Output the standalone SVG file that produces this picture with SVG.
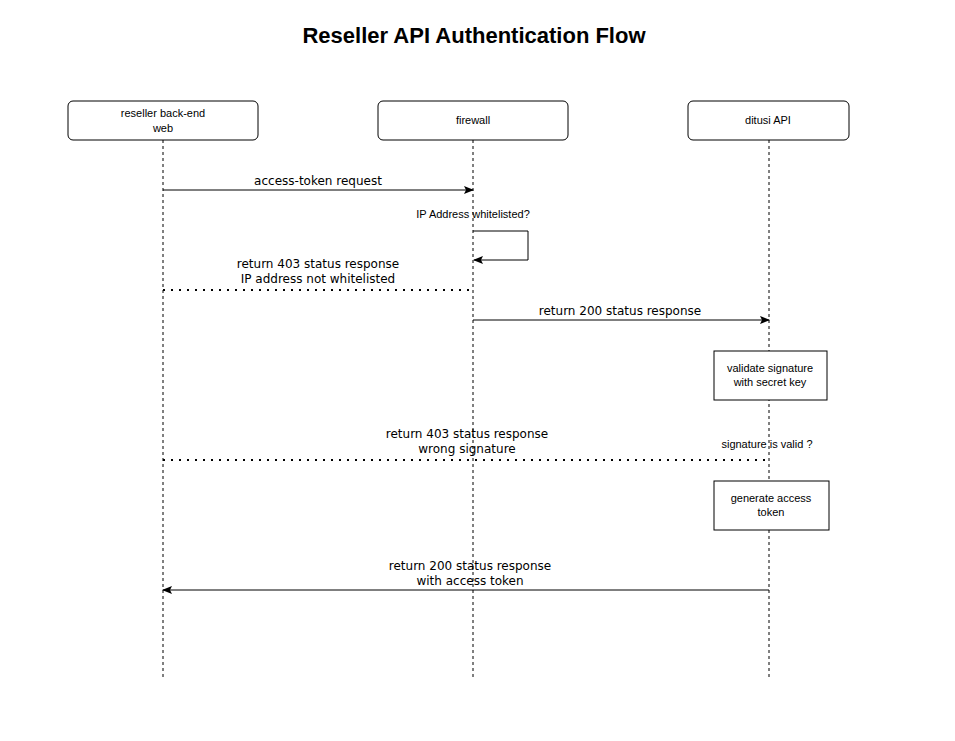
<svg xmlns="http://www.w3.org/2000/svg" width="955" height="741" viewBox="0 0 955 741">
<style>
.hd{fill:#fff;stroke:#000;stroke-width:1}
.ll{stroke:#000;stroke-width:1;stroke-dasharray:3,3;fill:none}
.msg{stroke:#000;stroke-width:1;fill:none}
.dot{stroke:#000;stroke-width:2;stroke-dasharray:2,6;fill:none}
.t{font-family:"DejaVu Sans",sans-serif;font-size:12px;text-anchor:middle}
.s{font-family:"Liberation Sans",Arial,sans-serif;font-size:11px;text-anchor:middle}
.bx{fill:#fff;stroke:#000;stroke-width:1}
</style>
<defs><marker id="a" markerWidth="10" markerHeight="8" refX="9" refY="4" orient="auto" markerUnits="userSpaceOnUse"><path d="M0,0L10,4L0,8L2,4Z" fill="#000"/></marker></defs>
<rect width="955" height="741" fill="#fff"/>
<text x="474" y="43" font-family="Liberation Sans,Arial,sans-serif" font-size="22" font-weight="bold" text-anchor="middle">Reseller API Authentication Flow</text>
<g id="lifelines">
<line class="ll" x1="163" y1="140" x2="163" y2="677"/>
<line class="ll" x1="473" y1="140" x2="473" y2="677"/>
<line class="ll" x1="769" y1="140" x2="769" y2="677"/>
</g>
<g id="reseller"><rect class="hd" x="68" y="101" width="190" height="39" rx="5"/><text class="s" x="163" y="117" font-size="12">reseller back-end</text><text class="s" x="163" y="132" font-size="12">web</text></g>
<g id="firewall"><rect class="hd" x="378" y="101" width="190" height="39" rx="5"/><text class="s" x="473" y="124" font-size="12">firewall</text></g>
<g id="ditusi"><rect class="hd" x="688" y="101" width="161" height="39" rx="5"/><text class="s" x="768" y="124" font-size="12">ditusi API</text></g>
<g id="connectors">
<line class="msg" x1="163" y1="190" x2="473" y2="190" marker-end="url(#a)"/>
<text class="t" x="318" y="185">access-token request</text>
<path class="msg" d="M473,231H528V260H474" marker-end="url(#a)"/>
<text class="s" x="473" y="218">IP Address whitelisted?</text>
<line class="dot" x1="163" y1="290" x2="470" y2="290"/>
<text class="t" x="318" y="268">return 403 status response</text>
<text class="t" x="318" y="283">IP address not whitelisted</text>
<line class="msg" x1="473" y1="320" x2="769" y2="320" marker-end="url(#a)"/>
<text class="t" x="620" y="315">return 200 status response</text>
<line class="dot" x1="163" y1="460" x2="766" y2="460"/>
<text class="t" x="467" y="438">return 403 status response</text>
<text class="t" x="467" y="453">wrong signature</text>
<text class="s" x="767" y="448">signature is valid ?</text>
<line class="msg" x1="769" y1="590" x2="163" y2="590" marker-end="url(#a)"/>
<text class="t" x="470" y="570">return 200 status response</text>
<text class="t" x="470" y="585">with access token</text>
</g>
<g id="validate"><rect class="bx" x="714" y="351" width="113" height="49"/><text class="s" x="770" y="372">validate signature</text><text class="s" x="770" y="386">with secret key</text></g>
<g id="generate"><rect class="bx" x="714" y="481" width="115" height="49"/><text class="s" x="771" y="502">generate access</text><text class="s" x="771" y="516">token</text></g>
</svg>
